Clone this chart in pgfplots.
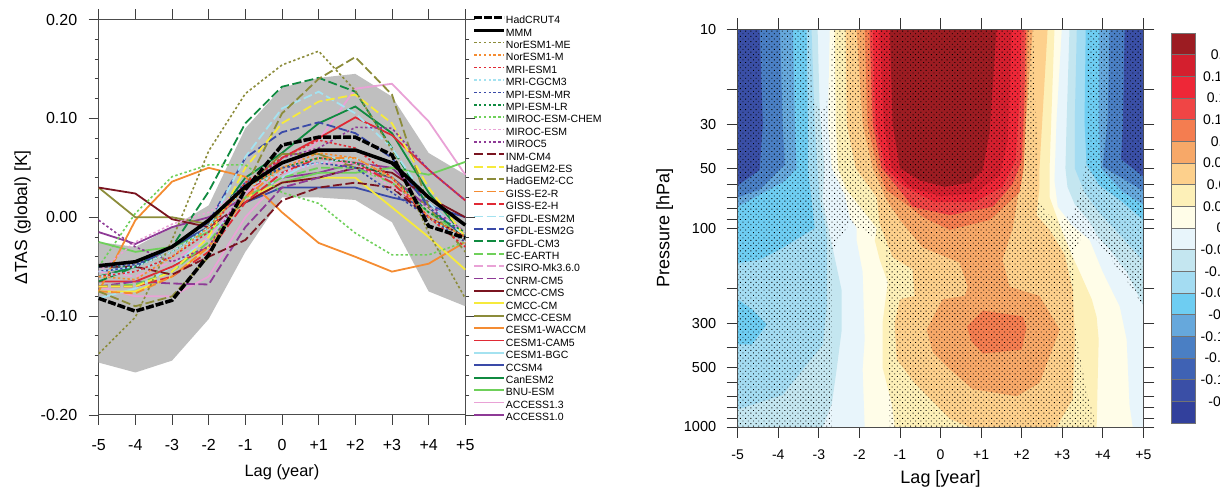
\documentclass[border=0pt]{standalone}
\usepackage{fontspec}
\setmainfont{Liberation Sans}
\usepackage{pgfplots}
\pgfplotsset{compat=1.18}
\usetikzlibrary{patterns.meta}
\definecolor{cPur}{HTML}{8E3A96}\definecolor{cPink}{HTML}{E9A2D6}\definecolor{cLGr}{HTML}{6FD05A}
\definecolor{cGr}{HTML}{108A40}\definecolor{cNavy}{HTML}{3A4AA8}\definecolor{cCy}{HTML}{A4E2F0}
\definecolor{cRed}{HTML}{E02A35}\definecolor{cOr}{HTML}{F48C32}\definecolor{cOl}{HTML}{8C8C3A}
\definecolor{cYe}{HTML}{F6EA3C}\definecolor{cMar}{HTML}{7A1420}
\definecolor{b1}{HTML}{9C1C22}\definecolor{b2}{HTML}{D41F2E}\definecolor{b3}{HTML}{EE2737}
\definecolor{b4}{HTML}{F04545}\definecolor{b5}{HTML}{F47D50}\definecolor{b6}{HTML}{F7A868}
\definecolor{b7}{HTML}{FDD08C}\definecolor{b8}{HTML}{FDF0B8}\definecolor{b9}{HTML}{FFFDE8}
\definecolor{b10}{HTML}{E8F5FB}\definecolor{b11}{HTML}{C4E6F0}\definecolor{b12}{HTML}{A4DCF2}
\definecolor{b13}{HTML}{6ECDF2}\definecolor{b14}{HTML}{66A8DC}\definecolor{b15}{HTML}{4A7FC4}
\definecolor{b16}{HTML}{3F62B4}\definecolor{b17}{HTML}{3A4FA6}\definecolor{b18}{HTML}{32409C}
\tikzset{
 sol/.style={solid,line width=1.8pt},
 das/.style={dash pattern=on 9pt off 3.5pt,line width=1.8pt},
 dot/.style={dash pattern=on 2.4pt off 2.4pt,line width=1.6pt}}
\begin{document}
\begin{tikzpicture}[x=1pt,y=1pt]
\useasboundingbox (0,0) rectangle (1220,489);
\begin{axis}[at={(98.7pt,74pt)},anchor=south west,scale only axis,width=366.6pt,height=395.5pt,
 xmin=-5,xmax=5,ymin=-0.2,ymax=0.2,
 xtick={-5,...,5},xticklabels={-5,-4,-3,-2,-1,0,+1,+2,+3,+4,+5},
 ytick={-0.2,-0.1,0,0.1,0.2},yticklabels={-0.20,-0.10,0.00,0.10,0.20},
 minor y tick num=4,tick align=outside,tick pos=both,major tick length=10pt,minor tick length=4pt,
 tick style={color=black!75,line width=.8pt},axis line style={color=black!70,line width=1pt},
 tick label style={font=\fontsize{16}{16}\selectfont},
 xticklabel style={yshift=-11pt},yticklabel style={xshift=-8pt},
 xlabel={Lag (year)},ylabel={ΔTAS (global) [K]},
 xlabel style={font=\fontsize{16.4}{16.4}\selectfont,at={(axis description cs:0.5,0)},anchor=center,yshift=-57pt},
 ylabel style={font=\fontsize{17.5}{17.5}\selectfont,at={(axis description cs:0,0.5)},anchor=center,yshift=76pt},
 clip=false,
 legend image code/.code={\draw[#1,yshift=0.33em] (0pt,0pt)--(30pt,0pt);},
 legend style={at={(1.0195,1.010)},anchor=north west,draw=none,fill=none,inner sep=0pt,outer sep=0pt,
   font=\fontsize{10.5}{10.5}\selectfont,cells={anchor=west},row sep=3.41pt,column sep=0pt,
   nodes={inner sep=0pt,outer sep=0pt,text height=7pt,text depth=2pt}},
]
\addlegendimage{black,dash pattern=on 8pt off 2pt,line width=3.5pt}\addlegendentry{HadCRUT4}
\addlegendimage{black,solid,line width=3.5pt}\addlegendentry{MMM}
\addlegendimage{cOl,dot}\addlegendentry{NorESM1-ME}
\addlegendimage{cOr,dot}\addlegendentry{NorESM1-M}
\addlegendimage{cRed,dot}\addlegendentry{MRI-ESM1}
\addlegendimage{cCy,dot}\addlegendentry{MRI-CGCM3}
\addlegendimage{cNavy,dot}\addlegendentry{MPI-ESM-MR}
\addlegendimage{cGr,dot}\addlegendentry{MPI-ESM-LR}
\addlegendimage{cLGr,dot}\addlegendentry{MIROC-ESM-CHEM}
\addlegendimage{cPink,dot}\addlegendentry{MIROC-ESM}
\addlegendimage{cPur,dot}\addlegendentry{MIROC5}
\addlegendimage{cMar,das}\addlegendentry{INM-CM4}
\addlegendimage{cYe,das}\addlegendentry{HadGEM2-ES}
\addlegendimage{cOl,das}\addlegendentry{HadGEM2-CC}
\addlegendimage{cOr,das}\addlegendentry{GISS-E2-R}
\addlegendimage{cRed,das}\addlegendentry{GISS-E2-H}
\addlegendimage{cCy,das}\addlegendentry{GFDL-ESM2M}
\addlegendimage{cNavy,das}\addlegendentry{GFDL-ESM2G}
\addlegendimage{cGr,das}\addlegendentry{GFDL-CM3}
\addlegendimage{cLGr,das}\addlegendentry{EC-EARTH}
\addlegendimage{cPink,das}\addlegendentry{CSIRO-Mk3.6.0}
\addlegendimage{cPur,das}\addlegendentry{CNRM-CM5}
\addlegendimage{cMar,sol}\addlegendentry{CMCC-CMS}
\addlegendimage{cYe,sol}\addlegendentry{CMCC-CM}
\addlegendimage{cOl,sol}\addlegendentry{CMCC-CESM}
\addlegendimage{cOr,sol}\addlegendentry{CESM1-WACCM}
\addlegendimage{cRed,sol}\addlegendentry{CESM1-CAM5}
\addlegendimage{cCy,sol}\addlegendentry{CESM1-BGC}
\addlegendimage{cNavy,sol}\addlegendentry{CCSM4}
\addlegendimage{cGr,sol}\addlegendentry{CanESM2}
\addlegendimage{cLGr,sol}\addlegendentry{BNU-ESM}
\addlegendimage{cPink,sol}\addlegendentry{ACCESS1.3}
\addlegendimage{cPur,sol}\addlegendentry{ACCESS1.0}
% envelope
\addplot[forget plot,fill=black!25,draw=none] coordinates {(-5,-0.025)(-4,-0.03)(-3,-0.01)(-2,0.012)(-1,0.09)(0,0.131)(1,0.141)(2,0.145)(3,0.122)(4,0.065)(5,0.043)
 (5,-0.09)(4,-0.075)(3,-0.005)(2,0.0175)(1,0.02)(0,0.02)(-1,-0.035)(-2,-0.103)(-3,-0.145)(-4,-0.157)(-5,-0.147)} -- cycle;
% solid
\addplot[forget plot,cPur,sol] coordinates {(-5,-0.015)(-4,-0.027)(-3,-0.01)(-2,0.0)(-1,0.02)(0,0.04)(1,0.045)(2,0.055)(3,0.05)(4,0.015)(5,-0.02)};
\addplot[forget plot,cPink,sol] coordinates {(-5,-0.07)(-4,-0.08)(-3,-0.08)(-2,-0.06)(-1,0.0)(0,0.04)(1,0.078)(2,0.13)(3,0.135)(4,0.097)(5,0.043)};
\addplot[forget plot,cLGr,sol] coordinates {(-5,-0.025)(-4,-0.035)(-3,-0.03)(-2,-0.015)(-1,0.015)(0,0.035)(1,0.045)(2,0.045)(3,0.05)(4,0.043)(5,0.056)};
\addplot[forget plot,cGr,sol] coordinates {(-5,-0.06)(-4,-0.05)(-3,-0.03)(-2,-0.01)(-1,0.04)(0,0.065)(1,0.095)(2,0.112)(3,0.085)(4,0.025)(5,-0.02)};
\addplot[forget plot,cNavy,sol] coordinates {(-5,-0.055)(-4,-0.05)(-3,-0.03)(-2,-0.01)(-1,0.015)(0,0.03)(1,0.03)(2,0.03)(3,0.02)(4,0.012)(5,0.0)};
\addplot[forget plot,cCy,sol] coordinates {(-5,-0.082)(-4,-0.072)(-3,-0.05)(-2,-0.02)(-1,0.02)(0,0.04)(1,0.06)(2,0.06)(3,0.04)(4,0.0)(5,-0.02)};
\addplot[forget plot,cRed,sol] coordinates {(-5,-0.065)(-4,-0.065)(-3,-0.05)(-2,-0.03)(-1,0.02)(0,0.06)(1,0.08)(2,0.101)(3,0.083)(4,0.048)(5,0.017)};
\addplot[forget plot,cOr,sol] coordinates {(-5,-0.075)(-4,-0.003)(-3,0.036)(-2,0.05)(-1,0.041)(0,0.005)(1,-0.026)(2,-0.04)(3,-0.055)(4,-0.047)(5,-0.025)};
\addplot[forget plot,cOl,sol] coordinates {(-5,0.03)(-4,0.0)(-3,0.0)(-2,-0.007)(-1,0.03)(0,0.064)(1,0.064)(2,0.05)(3,0.04)(4,0.01)(5,-0.02)};
\addplot[forget plot,cYe,sol] coordinates {(-5,-0.075)(-4,-0.075)(-3,-0.06)(-2,-0.03)(-1,0.02)(0,0.035)(1,0.04)(2,0.04)(3,0.01)(4,-0.02)(5,-0.053)};
\addplot[forget plot,cMar,sol] coordinates {(-5,0.03)(-4,0.024)(-3,-0.002)(-2,-0.01)(-1,0.015)(0,0.035)(1,0.04)(2,0.05)(3,0.045)(4,0.02)(5,0.0)};
% dashed
\addplot[forget plot,cPur,das] coordinates {(-5,-0.07)(-4,-0.065)(-3,-0.067)(-2,-0.068)(-1,-0.01)(0,0.03)(1,0.04)(2,0.05)(3,0.04)(4,0.01)(5,-0.015)};
\addplot[forget plot,cPink,das] coordinates {(-5,-0.055)(-4,-0.06)(-3,-0.045)(-2,-0.02)(-1,0.025)(0,0.045)(1,0.055)(2,0.055)(3,0.035)(4,0.005)(5,-0.015)};
\addplot[forget plot,cLGr,das] coordinates {(-5,-0.07)(-4,-0.068)(-3,-0.055)(-2,-0.025)(-1,0.02)(0,0.04)(1,0.05)(2,0.05)(3,0.035)(4,0.005)(5,-0.02)};
\addplot[forget plot,cGr,das] coordinates {(-5,-0.065)(-4,-0.05)(-3,-0.03)(-2,0.026)(-1,0.095)(0,0.132)(1,0.141)(2,0.127)(3,0.07)(4,0.01)(5,-0.02)};
\addplot[forget plot,cNavy,das] coordinates {(-5,-0.05)(-4,-0.05)(-3,-0.03)(-2,-0.005)(-1,0.06)(0,0.086)(1,0.096)(2,0.085)(3,0.06)(4,0.01)(5,-0.02)};
\addplot[forget plot,cCy,das] coordinates {(-5,-0.06)(-4,-0.055)(-3,-0.04)(-2,-0.01)(-1,0.061)(0,0.11)(1,0.127)(2,0.105)(3,0.07)(4,0.015)(5,-0.02)};
\addplot[forget plot,cRed,das] coordinates {(-5,-0.07)(-4,-0.07)(-3,-0.06)(-2,-0.035)(-1,0.015)(0,0.045)(1,0.06)(2,0.055)(3,0.035)(4,0.0)(5,-0.025)};
\addplot[forget plot,cOr,das] coordinates {(-5,-0.075)(-4,-0.077)(-3,-0.06)(-2,-0.03)(-1,0.02)(0,0.05)(1,0.06)(2,0.06)(3,0.04)(4,0.0)(5,-0.025)};
\addplot[forget plot,cOl,das] coordinates {(-5,-0.075)(-4,-0.09)(-3,-0.08)(-2,-0.04)(-1,0.03)(0,0.105)(1,0.14)(2,0.162)(3,0.124)(4,0.01)(5,-0.035)};
\addplot[forget plot,cYe,das] coordinates {(-5,-0.07)(-4,-0.07)(-3,-0.055)(-2,-0.02)(-1,0.05)(0,0.095)(1,0.117)(2,0.124)(3,0.095)(4,0.03)(5,-0.02)};
\addplot[forget plot,cMar,das] coordinates {(-5,-0.05)(-4,-0.05)(-3,-0.058)(-2,-0.04)(-1,-0.023)(0,0.017)(1,0.03)(2,0.035)(3,0.03)(4,0.0)(5,-0.02)};
% dotted
\addplot[forget plot,cPur,dot] coordinates {(-5,-0.003)(-4,-0.03)(-3,-0.045)(-2,-0.03)(-1,0.03)(0,0.06)(1,0.07)(2,0.091)(3,0.09)(4,0.048)(5,0.017)};
\addplot[forget plot,cPink,dot] coordinates {(-5,-0.055)(-4,-0.025)(-3,-0.007)(-2,0.005)(-1,0.03)(0,0.05)(1,0.06)(2,0.055)(3,0.03)(4,0.01)(5,-0.015)};
\addplot[forget plot,cLGr,dot] coordinates {(-5,-0.05)(-4,0.004)(-3,0.041)(-2,0.053)(-1,0.053)(0,0.025)(1,0.014)(2,-0.016)(3,-0.038)(4,-0.038)(5,-0.025)};
\addplot[forget plot,cGr,dot] coordinates {(-5,-0.05)(-4,-0.05)(-3,-0.035)(-2,-0.01)(-1,0.03)(0,0.05)(1,0.06)(2,0.055)(3,0.04)(4,0.005)(5,-0.015)};
\addplot[forget plot,cNavy,dot] coordinates {(-5,-0.05)(-4,-0.048)(-3,-0.03)(-2,-0.005)(-1,0.035)(0,0.05)(1,0.055)(2,0.05)(3,0.025)(4,0.0)(5,-0.025)};
\addplot[forget plot,cCy,dot] coordinates {(-5,-0.055)(-4,-0.05)(-3,-0.035)(-2,-0.01)(-1,0.03)(0,0.045)(1,0.055)(2,0.06)(3,0.04)(4,0.0)(5,-0.025)};
\addplot[forget plot,cRed,dot] coordinates {(-5,-0.06)(-4,-0.055)(-3,-0.04)(-2,-0.015)(-1,0.035)(0,0.06)(1,0.078)(2,0.07)(3,0.04)(4,0.0)(5,-0.03)};
\addplot[forget plot,cOr,dot] coordinates {(-5,-0.06)(-4,-0.063)(-3,-0.04)(-2,-0.01)(-1,0.03)(0,0.05)(1,0.065)(2,0.06)(3,0.04)(4,0.0)(5,-0.02)};
\addplot[forget plot,cOl,dot] coordinates {(-5,-0.138)(-4,-0.101)(-3,-0.023)(-2,0.067)(-1,0.125)(0,0.154)(1,0.168)(2,0.128)(3,0.068)(4,-0.016)(5,-0.082)};
% observations and mean
\addplot[forget plot,black,solid,line width=3.5pt] coordinates {(-5,-0.049)(-4,-0.045)(-3,-0.03)(-2,-0.003)(-1,0.031)(0,0.055)(1,0.068)(2,0.068)(3,0.055)(4,0.02)(5,-0.008)};
\addplot[forget plot,black,dash pattern=on 8pt off 2pt,line width=3.5pt] coordinates {(-5,-0.082)(-4,-0.095)(-3,-0.084)(-2,-0.038)(-1,0.028)(0,0.073)(1,0.081)(2,0.081)(3,0.063)(4,-0.009)(5,-0.021)};
\end{axis}
% ---------- right panel
\begin{axis}[at={(737.7pt,62pt)},anchor=south west,scale only axis,width=405.6pt,height=397.7pt,
 xmin=-5,xmax=5,ymin=10,ymax=1000,ymode=log,y dir=reverse,axis on top,
 xtick={-5,...,5},xticklabels={-5,-4,-3,-2,-1,0,+1,+2,+3,+4,+5},
 ytick={10,20,30,40,50,60,70,80,90,100,200,300,400,500,600,700,800,900,1000},
 yticklabels={10,,30,,50,,,,,100,,300,,500,,,,,1000},
 log basis y=10,minor tick num=0,tick align=outside,tick pos=both,major tick length=11pt,
 tick style={color=black!80,line width=.8pt},axis line style={color=black!70,line width=1pt},
 xticklabel style={font=\fontsize{14}{14}\selectfont,yshift=-8pt},
 yticklabel style={font=\fontsize{14.5}{14.5}\selectfont,xshift=-7pt},
 xlabel={Lag [year]},ylabel={Pressure [hPa]},
 label style={font=\fontsize{18}{18}\selectfont},
 xlabel style={at={(axis description cs:0.5,0)},anchor=center,yshift=-52pt},
 ylabel style={at={(axis description cs:0,0.5)},anchor=center,yshift=73pt},
]
\addplot[fill=b9,draw=none] coordinates {(-5,10)(5,10)(5,1000)(-5,1000)} -- cycle;
% positive bands
\addplot[fill=b8,draw=none] coordinates {(-2.61,10)(-2.58,30)(-2.53,50)(-2.31,64.5)(-1.92,81)(-1.57,100)(-1.62,115)(-1.5,144)(-1.3,187)(-1.43,300)(-1.43,500)(-1.2,765)(-1.13,1000)(3.85,1000)(3.88,530)(3.9,363)(3.85,280)(3.73,228)(3.43,166)(3.26,140)(3.01,105)(2.86,87)(2.69,70)(2.69,49)(2.81,10)} -- cycle;
\addplot[fill=b7,draw=none] coordinates {(-2.34,10)(-2.31,30)(-2.09,50)(-1.57,70)(-1.5,95)(-1.18,140)(-.69,161)(-.64,219)(-1,228)(-1.13,300)(-1.08,457)(-.64,600)(.23,910)(.72,1000)(2.86,1000)(3.26,723)(3.31,363)(3.26,204)(3.06,136)(2.69,102)(2.37,86)(2.44,62)(2.44,50)(2.64,10)} -- cycle;
\addplot[fill=b6,draw=none] coordinates {(-2.07,10)(-1.92,30)(-1.67,50)(-1.33,72)(-1,91)(-.44,125)(.47,149)(.67,197)(.6,219)(.05,228)(-.34,324)(-.19,420)(.23,512)(.79,645)(1.88,700)(2.44,600)(2.94,324)(2.44,219)(1.7,197)(1.53,144)(1.78,100)(1.95,62)(2.03,49)(2.27,10)} -- cycle;
\addplot[fill=b5,draw=none] coordinates {(-1.87,10)(-1.8,30)(-1.55,50)(-1.33,64.5)(-1,72)(-.39,89)(.23,102)(1.21,91)(1.95,66)(2.05,50)(2.12,22.7)(2.15,10)} -- cycle;
\addplot[fill=b5,draw=none] coordinates {(.65,312)(1.04,260)(2.03,278)(2.12,316)(2,408)(1.04,427)(.77,373)} -- cycle;
\addplot[fill=b4,draw=none] coordinates {(-1.75,10)(-1.67,30)(-1.45,50)(-1,64.5)(-.69,78)(.23,86)(1.29,78)(1.78,60)(2,45.5)(2.07,22.7)(2.1,10)} -- cycle;
\addplot[fill=b3,draw=none] coordinates {(-1.67,10)(-1.6,30)(-1.35,50)(-.88,62)(-.14,74)(.84,74)(1.53,62)(1.85,45.5)(1.95,22.7)(2,10)} -- cycle;
\addplot[fill=b2,draw=none] coordinates {(-1.5,10)(-1.4,30)(-1.2,50)(-.76,62)(-.02,69)(.84,67)(1.46,54)(1.66,36)(1.76,10)} -- cycle;
\addplot[fill=b1,draw=none] coordinates {(-1.25,10)(-1.18,30)(-1,50)(-.51,57.5)(.1,62)(.72,59)(1.04,51)(1.21,33)(1.38,10)} -- cycle;
% negative bands, left
\addplot[fill=b10,draw=none] coordinates {(-5,10)(-2.73,10)(-2.78,30)(-2.68,50)(-2.36,68)(-2.24,88)(-2.07,100)(-2.07,115)(-1.92,166)(-1.87,363)(-1.92,512)(-1.87,1000)(-5,1000)} -- cycle;
\addplot[fill=b11,draw=none] coordinates {(-5,10)(-3.03,10)(-2.98,25)(-2.86,50)(-2.91,72)(-2.73,108)(-2.44,204)(-2.44,330)(-2.56,512)(-2.68,765)(-2.9,1000)(-5,1000)} -- cycle;
\addplot[fill=b12,draw=none] coordinates {(-5,10)(-3.18,10)(-3.1,30)(-3.03,50)(-2.98,72)(-2.83,100)(-2.8,115)(-2.8,242)(-2.9,384)(-3.89,690)(-4.95,810)(-5,810)} -- cycle;
\addplot[fill=b13,draw=none] coordinates {(-5,10)(-3.3,10)(-3.27,30)(-3.27,50)(-3.18,72)(-3.1,100)(-3.96,128)(-4.46,144)(-5,150)} -- cycle;
\addplot[fill=b13,draw=none] coordinates {(-5,228)(-4.65,256)(-4.28,305)(-4.65,384)(-5,384)} -- cycle;
\addplot[fill=b14,draw=none] coordinates {(-5,10)(-3.64,10)(-3.59,30)(-3.55,50)(-3.84,58)(-5,78)} -- cycle;
\addplot[fill=b15,draw=none] coordinates {(-5,10)(-3.96,10)(-3.89,30)(-3.84,48)(-4.46,64)(-5,70)} -- cycle;
\addplot[fill=b17,draw=none] coordinates {(-5,10)(-4.46,10)(-4.38,30)(-4.46,51)(-5,61)} -- cycle;
% negative bands, right
\addplot[fill=b10,draw=none] coordinates {(2.99,10)(2.86,29)(2.81,57.5)(2.89,78)(3.23,96)(3.68,115)(4,166)(4.42,248)(4.59,363)(4.66,775)(4.74,1000)(5,1000)(5,10)} -- cycle;
\addplot[fill=b11,draw=none] coordinates {(3.18,10)(3.11,29)(3.08,50)(3.13,62)(3.31,76)(3.68,93)(3.85,108)(4.17,128)(4.59,166)(5,245)(5,10)} -- cycle;
\addplot[fill=b12,draw=none] coordinates {(3.36,10)(3.31,29)(3.31,50)(3.55,66)(3.92,84)(4.42,108)(5,146)(5,10)} -- cycle;
\addplot[fill=b13,draw=none] coordinates {(3.58,10)(3.55,29)(3.6,48)(3.92,61)(4.42,72)(5,91)(5,10)} -- cycle;
\addplot[fill=b14,draw=none] coordinates {(3.92,10)(3.9,29)(3.95,50)(4.5,66)(5,76)(5,10)} -- cycle;
\addplot[fill=b15,draw=none] coordinates {(4.17,10)(4.12,29)(4,49)(5,65)(5,10)} -- cycle;
\addplot[fill=b17,draw=none] coordinates {(4.54,10)(4.5,29)(4.45,45)(5,55)(5,10)} -- cycle;
% significance stippling
\addplot[draw=none,pattern={Dots[distance=3.7pt,angle=45,radius=0.65pt]},pattern color=black] coordinates {(-5,10)(-3.22,10)(-3.17,22)(-2.93,26)(-2.75,22)(-2.65,10)(2.28,10)(2.4,50)(2.37,70)(2.62,84)(2.95,93)(3.27,84)(3.44,66)(3.6,45)(3.6,10)(5,10)(5,252)(4.76,205)(3.86,115)(3.5,110)(3.3,128)(3.31,300)(3.56,600)(3.85,1000)(-1.25,1000)(-1.29,300)(-1.35,120)(-2.23,94)(-2.68,130)(-2.68,1000)(-5,1000)} -- cycle;
\end{axis}
% ---------- colour bar
\begin{axis}[at={(1170.7pt,66pt)},anchor=south west,scale only axis,width=24pt,height=390pt,
 xmin=0,xmax=1,ymin=-0.225,ymax=0.225,xtick=\empty,
 ytick={-0.2,-0.175,-0.15,-0.125,-0.1,-0.075,-0.05,-0.025,0,0.025,0.05,0.075,0.1,0.125,0.15,0.175,0.2},
 yticklabels={-0.2,-0.175,-0.15,-0.125,-0.1,-0.075,-0.05,-0.025,0,0.025,0.05,0.075,0.1,0.125,0.15,0.175,0.2},
 yticklabel pos=right,tick style={draw=none},axis line style={draw=none},
 yticklabel style={font=\fontsize{14}{14}\selectfont,anchor=center,xshift=25.8pt},
 every axis plot/.append style={draw=black!55,line width=.4pt},clip=false,
 /pgf/number format/assume math mode=true,
]
\addplot[fill=b1] coordinates {(0,0.225)(1,0.225)(1,0.2)(0,0.2)} -- cycle;
\addplot[fill=b2] coordinates {(0,0.2)(1,0.2)(1,0.175)(0,0.175)} -- cycle;
\addplot[fill=b3] coordinates {(0,0.175)(1,0.175)(1,0.15)(0,0.15)} -- cycle;
\addplot[fill=b4] coordinates {(0,0.15)(1,0.15)(1,0.125)(0,0.125)} -- cycle;
\addplot[fill=b5] coordinates {(0,0.125)(1,0.125)(1,0.1)(0,0.1)} -- cycle;
\addplot[fill=b6] coordinates {(0,0.1)(1,0.1)(1,0.075)(0,0.075)} -- cycle;
\addplot[fill=b7] coordinates {(0,0.075)(1,0.075)(1,0.05)(0,0.05)} -- cycle;
\addplot[fill=b8] coordinates {(0,0.05)(1,0.05)(1,0.025)(0,0.025)} -- cycle;
\addplot[fill=b9] coordinates {(0,0.025)(1,0.025)(1,0)(0,0)} -- cycle;
\addplot[fill=b10] coordinates {(0,0)(1,0)(1,-0.025)(0,-0.025)} -- cycle;
\addplot[fill=b11] coordinates {(0,-0.025)(1,-0.025)(1,-0.05)(0,-0.05)} -- cycle;
\addplot[fill=b12] coordinates {(0,-0.05)(1,-0.05)(1,-0.075)(0,-0.075)} -- cycle;
\addplot[fill=b13] coordinates {(0,-0.075)(1,-0.075)(1,-0.1)(0,-0.1)} -- cycle;
\addplot[fill=b14] coordinates {(0,-0.1)(1,-0.1)(1,-0.125)(0,-0.125)} -- cycle;
\addplot[fill=b15] coordinates {(0,-0.125)(1,-0.125)(1,-0.15)(0,-0.15)} -- cycle;
\addplot[fill=b16] coordinates {(0,-0.15)(1,-0.15)(1,-0.175)(0,-0.175)} -- cycle;
\addplot[fill=b17] coordinates {(0,-0.175)(1,-0.175)(1,-0.2)(0,-0.2)} -- cycle;
\addplot[fill=b18] coordinates {(0,-0.2)(1,-0.2)(1,-0.225)(0,-0.225)} -- cycle;
\end{axis}
\end{tikzpicture}
\end{document}
